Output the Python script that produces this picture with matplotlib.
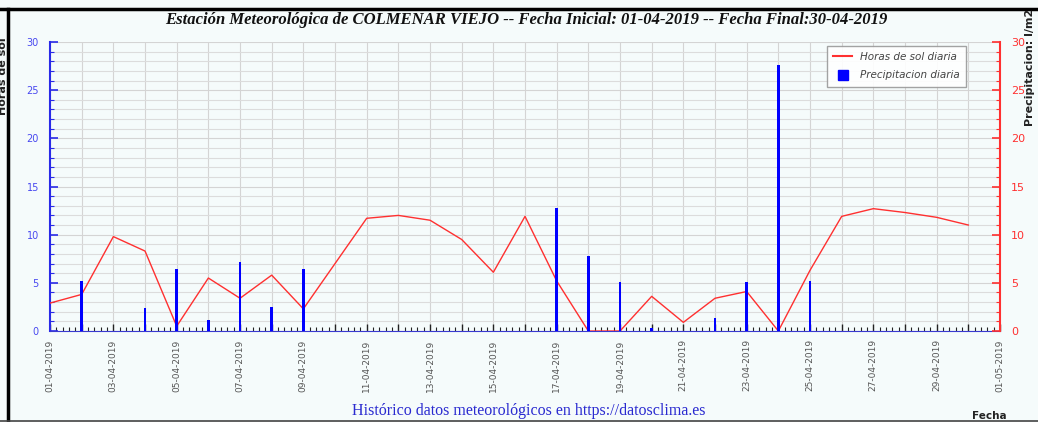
import numpy as np
import pandas as pd
import matplotlib
matplotlib.use("Agg")
import matplotlib.pyplot as plt
import matplotlib.dates as mdates
from matplotlib.ticker import MultipleLocator, FuncFormatter
from matplotlib.lines import Line2D

# daily values, 01-04-2019 .. 30-04-2019
fechas = pd.date_range("2019-04-01", "2019-04-30", freq="D")
horas_sol = [2.9, 3.8, 9.8, 8.3, 0.5, 5.5, 3.4, 5.8, 2.3, 7.0,
             11.7, 12.0, 11.5, 9.5, 6.1, 11.9, 5.2, 0.0, 0.0, 3.6,
             0.9, 3.4, 4.1, 0.0, 6.3, 11.9, 12.7, 12.3, 11.8, 11.0]
precipitacion = [0.0, 5.2, 0.0, 2.4, 6.4, 1.1, 7.2, 2.5, 6.4, 0.0,
                 0.0, 0.0, 0.0, 0.0, 0.0, 0.0, 12.8, 7.8, 5.1, 0.3,
                 0.0, 1.3, 5.1, 27.6, 5.2, 0.0, 0.0, 0.0, 0.0, 0.0]

titulo = ("Estación Meteorológica de COLMENAR VIEJO -- Fecha Inicial: 01-04-2019"
          " -- Fecha Final:30-04-2019")
pie = "Histórico datos meteorológicos en https://datosclima.es"

BG = "#f5fbfb"
AZUL = "#2a2ae8"
ROJO = "#ff3030"

fig = plt.figure(figsize=(10.38, 4.22), dpi=100, facecolor=BG)
ax = fig.add_axes([0.0482, 0.2156, 0.9152, 0.6849], facecolor=BG)
ax2 = ax.twinx()

# sun hours on the left axis
ax.plot(fechas, horas_sol, color=ROJO, lw=1.0, zorder=3)
# rain on the right axis
ax2.bar(fechas, precipitacion, width=0.09, color="#0000ff", zorder=3)

xmin = pd.Timestamp("2019-04-01")
xmax = pd.Timestamp("2019-05-01")
ax.set_xlim(xmin, xmax)
ax.set_ylim(0, 30)
ax2.set_ylim(0, 30)

# x axis: a tick every day, label every second day
ax.xaxis.set_major_locator(mdates.DayLocator(interval=1))
ax.xaxis.set_minor_locator(MultipleLocator(0.2))
start = mdates.date2num(xmin)
ax.xaxis.set_major_formatter(FuncFormatter(
    lambda v, p: mdates.num2date(v).strftime("%d-%m-%Y") if round(v - start) % 2 == 0 else ""))
ax.tick_params(axis="x", which="major", direction="in", length=5, width=1,
               color="#222222", labelsize=6.5, labelcolor="#555555", rotation=90, pad=6)
ax.tick_params(axis="x", which="minor", direction="in", length=3, width=0.8, color="#222222")

ax.yaxis.set_major_locator(MultipleLocator(5))
ax.yaxis.set_minor_locator(MultipleLocator(1))
ax.tick_params(axis="y", which="major", direction="in", length=6, width=1.2,
               color=AZUL, labelcolor="#4848f0", labelsize=7, pad=8)
ax.tick_params(axis="y", which="minor", direction="in", length=3, width=0.8, color=AZUL)

ax2.yaxis.set_major_locator(MultipleLocator(5))
ax2.yaxis.set_minor_locator(MultipleLocator(1))
ax2.tick_params(axis="y", which="major", direction="in", length=6, width=1.2,
                color=ROJO, labelcolor=ROJO, labelsize=8, pad=8)
ax2.tick_params(axis="y", which="minor", direction="in", length=3, width=0.8, color=ROJO)

ax.grid(True, which="major", axis="x", color="#d4d4d4", lw=0.8)
ax.grid(True, which="minor", axis="y", color="#dcdcdc", lw=0.8)
ax.grid(True, which="major", axis="y", color="#d4d4d4", lw=0.8)
ax.set_axisbelow(True)

for a in (ax, ax2):
    a.spines["top"].set_visible(False)
ax.spines["left"].set_color(AZUL)
ax.spines["left"].set_linewidth(1.5)
ax2.spines["left"].set_visible(False)
ax2.spines["right"].set_color(ROJO)
ax2.spines["right"].set_linewidth(1.5)
ax.spines["right"].set_visible(False)
ax.spines["bottom"].set_color("#3a3ad0")
ax2.spines["bottom"].set_visible(False)

handles = [Line2D([], [], color=ROJO, lw=1.5),
           Line2D([], [], color="#0000ff", marker="s", ls="none", markersize=7)]
leg = ax2.legend(handles, ["Horas de sol diaria", "Precipitacion diaria"],
                 loc="upper right", bbox_to_anchor=(0.97, 1.005),
                 prop={"style": "italic", "size": 7.5}, frameon=True, fancybox=False,
                 edgecolor="#999999", facecolor="#ffffff", framealpha=0.9,
                 handlelength=1.8, borderpad=0.6, labelspacing=0.8)
for t in leg.get_texts():
    t.set_color("#444444")

fig.text(0.507, 0.952, titulo, ha="center", va="center", family="Liberation Serif",
         style="italic", weight="bold", fontsize=12, color="#111111")
fig.text(0.509, 0.027, pie, ha="center", va="center", family="Liberation Serif",
         fontsize=11.5, color="#2a2ad0")
fig.text(0.953, 0.015, "Fecha", ha="center", va="center", weight="bold",
         fontsize=7.5, color="#222222")
fig.text(0.992, 0.84, "Precipitacion: l/m2", ha="center", va="center", rotation=90,
         weight="bold", fontsize=8, color="#222222")
fig.text(0.003, 0.82, "Horas de sol", ha="center", va="center", rotation=90,
         weight="bold", fontsize=8, color="#222222")

# frame around the picture
fig.add_artist(Line2D([0, 1], [0.979, 0.979], transform=fig.transFigure, color="black", lw=2.5))
fig.add_artist(Line2D([0.008, 0.008], [0.003, 0.979], transform=fig.transFigure, color="black", lw=2.5))
fig.add_artist(Line2D([0, 1], [0.003, 0.003], transform=fig.transFigure, color="#444444", lw=1.2))

fig.savefig("out.png", dpi=100, facecolor=BG)
